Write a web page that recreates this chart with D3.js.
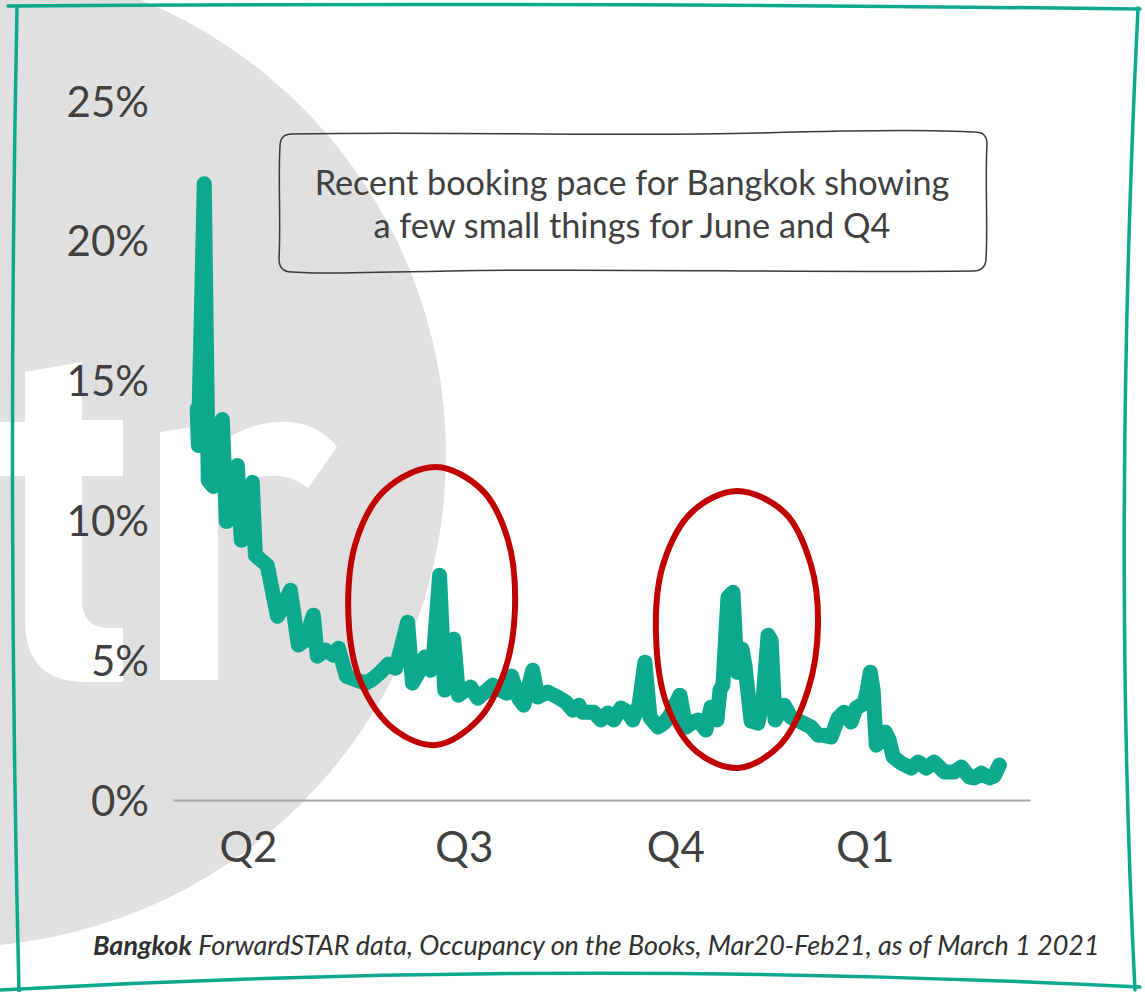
<!DOCTYPE html>
<html>
<head>
<meta charset="utf-8">
<script src="https://cdn.jsdelivr.net/npm/d3@7"></script>
<style>
  html, body { margin: 0; padding: 0; background: #fff; }
  svg { display: block; }
</style>
</head>
<body>
<svg id="chart" width="1145" height="992"></svg>
<script>
// ---------- DATA ----------
// day offset from start of the forward window (stay date), occupancy on the books (%)
const days = [0, 0.5, 3.2, 5.0, 7.3, 11.4, 13.2, 18.2, 20.0, 25.0,
  26.4, 29.1, 31.8, 36.4, 39.1, 42.3, 45.9, 49.1, 52.7, 54.5,
  58.2, 61.8, 64.1, 67.7, 72.3, 76.4, 79.5, 83.2, 86.8, 90.0,
  92.3, 95.5, 97.7, 100.5, 103.2, 105.9, 107.3, 110.0, 112.3, 114.1,
  116.4, 118.6, 121.8, 124.1, 127.3, 130.5, 134.1, 137.7, 140.5, 142.7,
  145.9, 148.2, 152.3, 154.5, 159.1, 163.6, 167.3, 170.5, 173.2, 175.0,
  180.0, 183.2, 186.4, 189.1, 192.3, 195.5, 197.7, 200.5, 203.2, 205.5,
  209.1, 211.8, 214.1, 219.1, 221.8, 225.0, 227.3, 230.9, 233.2, 235.9,
  237.3, 238.6, 240.9, 243.2, 245.0, 247.3, 248.6, 251.4, 254.5, 256.8,
  259.1, 260.5, 262.3, 266.4, 269.5, 275.0, 278.6, 281.8, 284.1, 287.7,
  290.9, 293.6, 296.8, 299.1, 302.7, 304.1, 305.5, 306.8, 308.2, 310.5,
  312.3, 314.1, 315.9, 319.5, 324.1, 327.3, 330.9, 334.5, 339.1, 343.6,
  346.8, 350.5, 352.7, 355.9, 359.5, 361.8, 364.1];
const occupancy = [14.0, 12.68, 22.04, 11.43, 11.21, 13.61, 9.96, 11.96, 9.29, 11.36,
  8.75, 8.57, 8.39, 6.57, 6.96, 7.5, 5.54, 5.71, 6.61, 5.14,
  5.36, 5.18, 5.43, 4.43, 4.29, 4.18, 4.32, 4.57, 4.86, 4.71,
  5.36, 6.36, 4.18, 4.57, 5.11, 4.64, 5.18, 8.04, 3.93, 4.64,
  5.75, 3.75, 3.93, 4.04, 3.64, 3.86, 4.11, 3.93, 3.82, 4.43,
  3.64, 3.39, 4.64, 3.68, 3.86, 3.68, 3.5, 3.21, 3.39, 3.14,
  3.14, 2.86, 3.11, 2.86, 3.29, 3.14, 2.86, 3.39, 4.93, 2.96,
  2.61, 2.75, 2.96, 3.75, 2.61, 2.79, 2.86, 2.5, 3.32, 2.86,
  3.93, 4.11, 7.25, 7.43, 4.57, 5.39, 4.82, 2.82, 2.75, 3.57,
  5.89, 5.71, 2.86, 3.39, 2.96, 2.75, 2.61, 2.32, 2.32, 2.25,
  2.93, 3.14, 2.79, 3.29, 3.46, 3.93, 4.57, 3.93, 1.96, 2.14,
  2.43, 2.14, 1.54, 1.32, 1.14, 1.36, 1.14, 1.36, 1.0, 1.0,
  1.18, 0.82, 0.79, 0.96, 0.79, 0.86, 1.25];
const quarterLabels = ["Q2", "Q3", "Q4", "Q1"];
const quarterDays = [23, 121, 217, 303];
const yTicks = [0, 5, 10, 15, 20, 25];
const noteLines = ["Recent booking pace for Bangkok showing", "a few small things for June and Q4"];
const captionBold = "Bangkok";
const captionRest = " ForwardSTAR data, Occupancy on the Books, Mar20-Feb21, as of March 1 2021";

// ---------- SETUP ----------
const svg = d3.select("#chart");
const GREEN = "#0da98e";
const TEXT = "#404040";
const FONT = "Lato, 'Open Sans', sans-serif";

const x = d3.scaleLinear().domain([-11, 378]).range([173, 1030]);
const y = d3.scaleLinear().domain([0, 25]).range([800, 101]);

function fitWidth(sel, target) {
  const w = sel.node().getComputedTextLength();
  const fs = parseFloat(sel.attr("font-size"));
  sel.attr("font-size", (fs * target / w).toFixed(2));
}

// ---------- WATERMARK (grey disc with "tr") ----------
svg.append("circle").attr("cx", -46).attr("cy", 455).attr("r", 492).attr("fill", "#e0e0e0");
svg.append("path")
  .attr("d", "M25 372 L82 362 L82 420 L123 420 L123 476 L82 476 L82 600 Q82 628 110 628 L123 628 L123 682 L85 682 Q25 682 25 620 L25 476 L0 476 L0 422 L25 422 Z")
  .attr("fill", "#ffffff");
svg.append("path")
  .attr("d", "M160 432 L205 425 Q213 436 218 445 Q250 420 290 422 Q320 425 337 447 L308 488 Q285 470 255 478 Q230 485 218 505 L218 680 L160 680 Z")
  .attr("fill", "#ffffff");

// ---------- FRAME ----------
const frame = svg.append("g").attr("fill", "none").attr("stroke", GREEN)
  .attr("stroke-width", 3.5).attr("stroke-linecap", "round");
frame.append("path").attr("d", "M8 6 Q570 2 1140 9");
frame.append("path").attr("d", "M17 8 Q7 500 19 992");
frame.append("path").attr("d", "M1138 8 Q1112 540 1135 990");
frame.append("path").attr("d", "M0 990 Q570 958 1140 987");

// ---------- AXES ----------
const yAxis = svg.append("g")
  .attr("transform", `translate(${x.range()[0]},0)`)
  .call(d3.axisLeft(y).tickValues(yTicks).tickSize(0).tickPadding(24).tickFormat(d => d + "%"));
yAxis.select(".domain").remove();
yAxis.selectAll("text")
  .attr("font-family", FONT).attr("font-weight", 400)
  .attr("font-size", 42).attr("fill", TEXT).attr("dy", "0.36em");

const xAxis = svg.append("g")
  .attr("transform", `translate(0,${y(0)})`)
  .call(d3.axisBottom(x).tickValues(quarterDays).tickSize(0)
    .tickFormat((d, i) => quarterLabels[i]));
xAxis.select(".domain").attr("stroke", "#a6a6a6").attr("stroke-width", 2);
xAxis.selectAll("text")
  .attr("font-family", FONT).attr("font-weight", 400)
  .attr("font-size", 42).attr("fill", TEXT).attr("y", 62).attr("dy", 0);

// ---------- LINE ----------
const series = days.map((d, i) => ({ day: d, v: occupancy[i] }));
svg.append("path")
  .datum(series)
  .attr("d", d3.line().x(d => x(d.day)).y(d => y(d.v)))
  .attr("fill", "none")
  .attr("stroke", GREEN)
  .attr("stroke-width", 15)
  .attr("stroke-linejoin", "round")
  .attr("stroke-linecap", "round");

// ---------- RED HIGHLIGHT LOOPS ----------
const loop1 = [[436,467],[482,490],[508,540],[515,608],[505,670],[478,720],[436,745],[395,730],[362,685],[349,627],[355,545],[385,490]];
const loop2 = [[737,491],[785,513],[811,565],[818,625],[808,690],[780,745],[738,768],[697,752],[667,705],[656,635],[663,565],[692,512]];
[loop1, loop2].forEach(pts => {
  svg.append("path")
    .attr("d", d3.line().curve(d3.curveCatmullRomClosed)(pts))
    .attr("fill", "none").attr("stroke", "#c00000").attr("stroke-width", 6);
});

// ---------- NOTE BOX ----------
svg.append("path")
  .attr("d", "M292 134 C450 131 600 137 760 133 S940 131 975 132 Q987 132 987 144 C985 180 988 230 986 258 Q986 271 973 271 C800 273 600 268 450 271 S320 273 292 272 Q279 272 279 259 C281 220 278 180 280 146 Q280 134 292 134 Z")
  .attr("fill", "none")
  .attr("stroke", "#3a3a3a").attr("stroke-width", 1.5);
const noteTargets = [635, 517];
const noteBaselines = [195, 238];
noteLines.forEach((t, i) => {
  const s = svg.append("text")
    .attr("x", 632).attr("y", noteBaselines[i])
    .attr("text-anchor", "middle")
    .attr("font-family", FONT).attr("font-weight", 400)
    .attr("font-size", 32).attr("fill", TEXT).text(t);
  fitWidth(s, noteTargets[i]);
});

// ---------- CAPTION ----------
const cap = svg.append("text")
  .attr("x", 93).attr("y", 955)
  .attr("font-family", FONT).attr("font-style", "italic")
  .attr("font-size", 22).attr("fill", "#303030");
cap.append("tspan").attr("font-weight", 700).text(captionBold);
cap.append("tspan").attr("font-weight", 400).text(captionRest);
fitWidth(cap, 1007);
</script>
</body>
</html>
